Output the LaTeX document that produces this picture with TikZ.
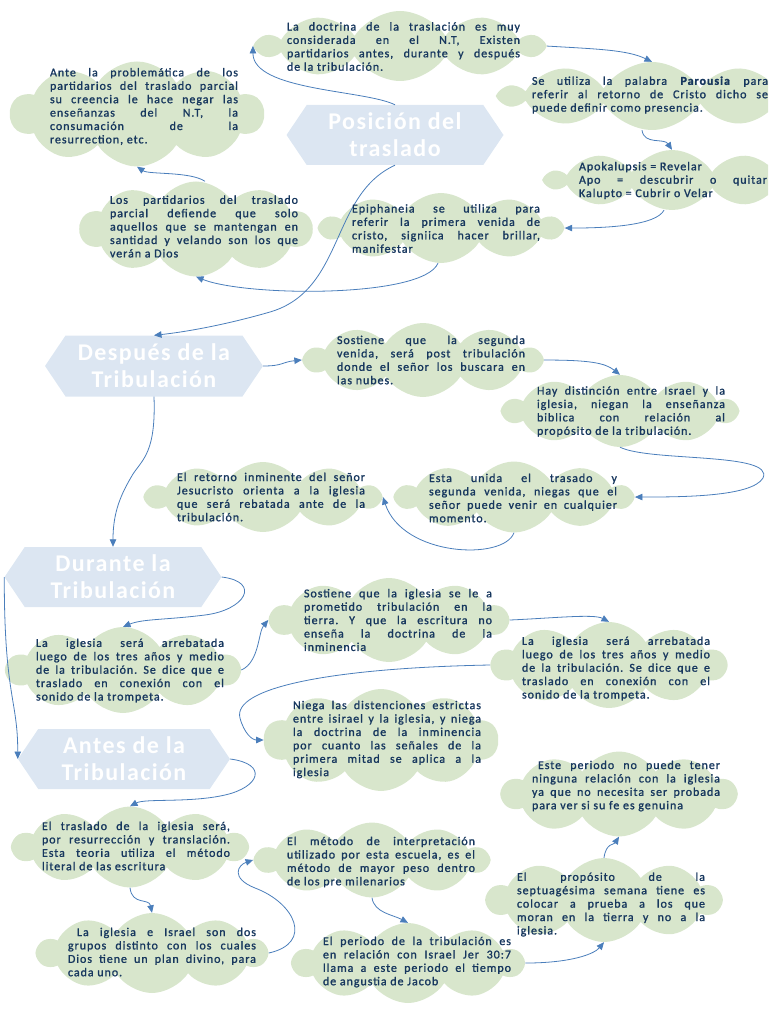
\documentclass[tikz,border=0pt]{standalone}
\usepackage{fontspec}
\setmainfont{Carlito}
\newfontfamily\cloudfont[LetterSpace=8,FakeBold=1.2]{Carlito}
\newfontfamily\hexfont[LetterSpace=6]{Carlito}
\usetikzlibrary{shapes.symbols,arrows.meta,calc}
\definecolor{navy}{RGB}{23,55,94}
\definecolor{cloudgreen}{RGB}{216,230,204}
\definecolor{hexblue}{RGB}{220,230,242}
\definecolor{arrowblue}{RGB}{74,126,187}
\hyphenpenalty=10000
\exhyphenpenalty=10000
\tolerance=9999
\frenchspacing
\begin{document}
\begin{tikzpicture}[x=1pt,y=-1pt,
 cloudbg/.style={cloud, cloud puffs=10, cloud puff arc=115, cloud ignores aspect, fill=cloudgreen, draw=none, inner sep=0pt},
 txt/.style={text width=188pt, align=justify, inner sep=0pt, text=navy,
   font=\cloudfont\fontsize{12}{13.4}\selectfont},
 hexa/.style={signal, signal to=west and east, signal pointer angle=112, fill=hexblue, draw=none, text=white,
   font=\hexfont\bfseries\fontsize{24}{27}\selectfont, align=center, inner sep=0pt, minimum height=60pt},
 conn/.style={draw=arrowblue, line width=0.8pt, -{Triangle[length=7.5pt,width=6.5pt]}}
]
\path[use as bounding box] (0,0) rectangle (768,1024);
\clip (0,0) rectangle (768,1024);

% hexagons
\node[hexa, minimum width=217pt] (hP) at (395,135) {Posición del\\traslado};
\node[hexa, minimum width=218pt, minimum height=61pt] (hD) at (154,366) {Después de la\\Tribulación};
\node[hexa, minimum width=217pt] (hU) at (113,577) {Durante la\\Tribulación};
\node[hexa, minimum width=212pt] (hA) at (124,759) {Antes de la\\Tribulación};

% clouds
\node[cloudbg, minimum width=283pt, minimum height=70pt] (cA) at (400,46) {};
\node[cloudbg, minimum width=300pt, minimum height=68pt] (cB) at (652,96) {};
\node[cloudbg, minimum width=250pt, minimum height=60pt] (cC) at (672,180) {};
\node[cloudbg, minimum width=240pt, minimum height=70pt] (cD) at (441,228) {};
\node[cloudbg, minimum width=232pt, minimum height=95pt] (cE) at (196,229) {};
\node[cloudbg, minimum width=253pt, minimum height=105pt] (cF) at (137,114) {};
\node[cloudbg, minimum width=236pt, minimum height=74pt] (cG) at (423,360) {};
\node[cloudbg, minimum width=233pt, minimum height=72pt] (cH) at (620,411) {};
\node[cloudbg, minimum width=235pt, minimum height=71pt] (cI) at (514,497) {};
\node[cloudbg, minimum width=233pt, minimum height=70pt] (cJ) at (263,497) {};
\node[cloudbg, minimum width=233pt, minimum height=86pt] (cK) at (123,670) {};
\node[cloudbg, minimum width=237pt, minimum height=84pt] (cL) at (389,620) {};
\node[cloudbg, minimum width=234pt, minimum height=86pt] (cM) at (609,665) {};
\node[cloudbg, minimum width=234pt, minimum height=102pt] (cN) at (381,740) {};
\node[cloudbg, minimum width=234pt, minimum height=85pt] (cO) at (619,794) {};
\node[cloudbg, minimum width=234pt, minimum height=81pt] (cP) at (130,847) {};
\node[cloudbg, minimum width=232pt, minimum height=75pt] (cQ) at (372,860) {};
\node[cloudbg, minimum width=234pt, minimum height=84pt] (cR) at (604,900) {};
\node[cloudbg, minimum width=229pt, minimum height=80pt] (cS) at (152,953) {};
\node[cloudbg, minimum width=230pt, minimum height=80pt] (cT) at (408,963) {};

% connectors
\draw[conn] (hP.north) .. controls +(-30,-15) and +(0,45) .. (cA.west);
\draw[conn] (cA.east) .. controls +(50,3) and +(-25,-12) .. (cB.north);
\draw[conn] ([xshift=-10pt]cB.south) .. controls +(2,15) and +(-8,-12) .. (cC.north);
\draw[conn] ([xshift=-8pt]cC.south) .. controls +(-8,15) and +(45,0) .. (cD.east);
\draw[conn] ([xshift=-3pt]cD.south) .. controls +(-15,35) and +(50,20) .. (cE.south);
\draw[conn] ([xshift=9pt]cE.north) .. controls +(-15,-10) and +(12,8) .. (cF.south);
\draw[conn] (hP.south) .. controls (330,195) and (345,290) .. (270,312) .. controls (225,325) and (185,332) .. (hD.north);
\draw[conn] (hD.east) .. controls +(20,0) and +(-20,2) .. (cG.west);
\draw[conn] (cG.east) .. controls +(45,0) and +(-15,-12) .. (cH.north);
\draw[conn] (cH.south) .. controls (650,462) and (775,452) .. (763,478) .. controls (752,497) and (680,497) .. (cI.east);
\draw[conn] (cI.south) .. controls +(-10,28) and +(20,60) .. (cJ.east);
\draw[conn] (hD.south) .. controls +(2,55) and +(10,-15) .. (133,474) .. controls +(-12,20) and +(0,-35) .. (hU.north);
\draw[conn] (hU.east) .. controls +(40,5) and +(40,-5) .. (205,615) .. controls +(-40,5) and +(20,-8) .. (cK.north);
\draw[conn] (hU.west) .. controls +(0,120) and +(0,-60) .. (hA.west);
\draw[conn] (cK.east) .. controls +(18,-8) and +(-10,12) .. (cL.west);
\draw[conn] (cL.east) .. controls +(45,-2) and +(-15,-8) .. (cM.north);
\draw[conn] (cM.west) .. controls (330,668) and (232,688) .. (240,718) .. controls (244,733) and (252,740) .. (cN.west);
\draw[conn] (hA.east) .. controls +(38,5) and +(35,-8) .. (225,795) .. controls +(-35,8) and +(15,-8) .. (cP.north);
\draw[conn] (cP.south) .. controls +(2,18) and +(-3,-15) .. (cS.north);
\draw[conn] (cS.east) .. controls +(45,-10) and +(40,15) .. (255,888) .. controls +(-25,-10) and +(-15,5) .. (cQ.west);
\draw[conn] (cQ.south) .. controls +(2,15) and +(-15,-8) .. (cT.north);
\draw[conn] (cT.east) .. controls +(45,0) and +(-10,12) .. (cR.south);
\draw[conn] (cR.north) .. controls +(2,-15) and +(-5,8) .. (cO.south);

% texts
\node[txt, text width=233pt] (tA) at (403.5,46.5) {La doctrina de la traslación es muy\linebreak considerada en el N.T, Existen\linebreak partidarios antes, durante y después\linebreak de la tribulación.};
\node[txt, text width=236pt] (tB) at (650,95) {Se utiliza la palabra \textbf{Parousia} para\linebreak referir al retorno de Cristo dicho se\linebreak puede definir como presencia.};
\node[txt] (tC) at (673,180.5) {Apokalupsis = Revelar\\Apo = descubrir o quitar\linebreak Kalupto = Cubrir o Velar};
\node[txt] (tD) at (446,228.5) {Epiphaneia se utiliza para\linebreak referir la primera venida de\linebreak cristo, signiica hacer brillar,\linebreak manifestar};
\node[txt] (tE) at (204,226.5) {Los partidarios del traslado\linebreak parcial defiende que solo\linebreak aquellos que se mantengan en\linebreak santidad y velando son los que\linebreak verán a Dios};
\node[txt] (tF) at (144,106.5) {Ante la problemática de los\linebreak partidarios del traslado parcial\linebreak su creencia le hace negar las\linebreak enseñanzas del N.T, la\linebreak consumación de la\linebreak resurrection, etc.};
\node[txt] (tG) at (431,360) {Sostiene que la segunda\linebreak venida, será post tribulación\linebreak donde el señor los buscara en\linebreak las nubes.};
\node[txt] (tH) at (631,411.5) {Hay distinción entre Israel y la\linebreak iglesia, niegan la enseñanza\linebreak biblica con relación al\linebreak propósito de la tribulación.};
\node[txt] (tI) at (523,498) {Esta unida el trasado y\linebreak segunda venida, niegas que el\linebreak señor puede venir en cualquier\linebreak momento.};
\node[txt] (tJ) at (271,497) {El retorno inminente del señor\linebreak Jesucristo orienta a la iglesia\linebreak que será rebatada ante de la\linebreak tribulación.};
\node[txt] (tK) at (130,670.5) {La iglesia será arrebatada\linebreak luego de los tres años y medio\linebreak de la tribulación. Se dice que e\linebreak traslado en conexión con el\linebreak sonido de la trompeta.};
\node[txt] (tL) at (398,620) {Sostiene que la iglesia se le a\linebreak prometido tribulación en la\linebreak tierra. Y que la escritura no\linebreak enseña la doctrina de la\linebreak inminencia};
\node[txt] (tM) at (616,668.5) {La iglesia será arrebatada\linebreak luego de los tres años y medio\linebreak de la tribulación. Se dice que e\linebreak traslado en conexión con el\linebreak sonido de la trompeta.};
\node[txt] (tN) at (387,739.5) {Niega las distenciones estrictas\linebreak entre isirael y la iglesia, y niega\linebreak la doctrina de la inminencia\linebreak por cuanto las señales de la\linebreak primera mitad se aplica a la\linebreak iglesia};
\node[txt] (tO) at (626,786) {\hspace*{6pt}Este periodo no puede tener\linebreak ninguna relación con la iglesia\linebreak ya que no necesita ser probada\linebreak para ver si su fe es genuina};
\node[txt] (tP) at (136,846) {El traslado de la iglesia será,\linebreak por resurrección y translación.\linebreak Esta teoria utiliza el método\linebreak literal de las escritura};
\node[txt] (tQ) at (381,862) {El método de interpretación\linebreak utilizado por esta escuela, es el\linebreak método de mayor peso dentro\linebreak de los pre milenarios};
\node[txt] (tR) at (611,904.5) {El propósito de la\linebreak septuagésima semana tiene es\linebreak colocar a prueba a los que\linebreak moran en la tierra y no a la\linebreak iglesia.};
\node[txt] (tS) at (162,952) {\hspace*{9pt}La iglesia e Israel son dos\linebreak grupos distinto con los cuales\linebreak Dios tiene un plan divino, para\linebreak cada uno.};
\node[txt] (tT) at (417,962) {El periodo de la tribulación es\linebreak en relación con Israel Jer 30:7\linebreak llama a este periodo el tiempo\linebreak de angustia de Jacob};
\end{tikzpicture}
\end{document}
